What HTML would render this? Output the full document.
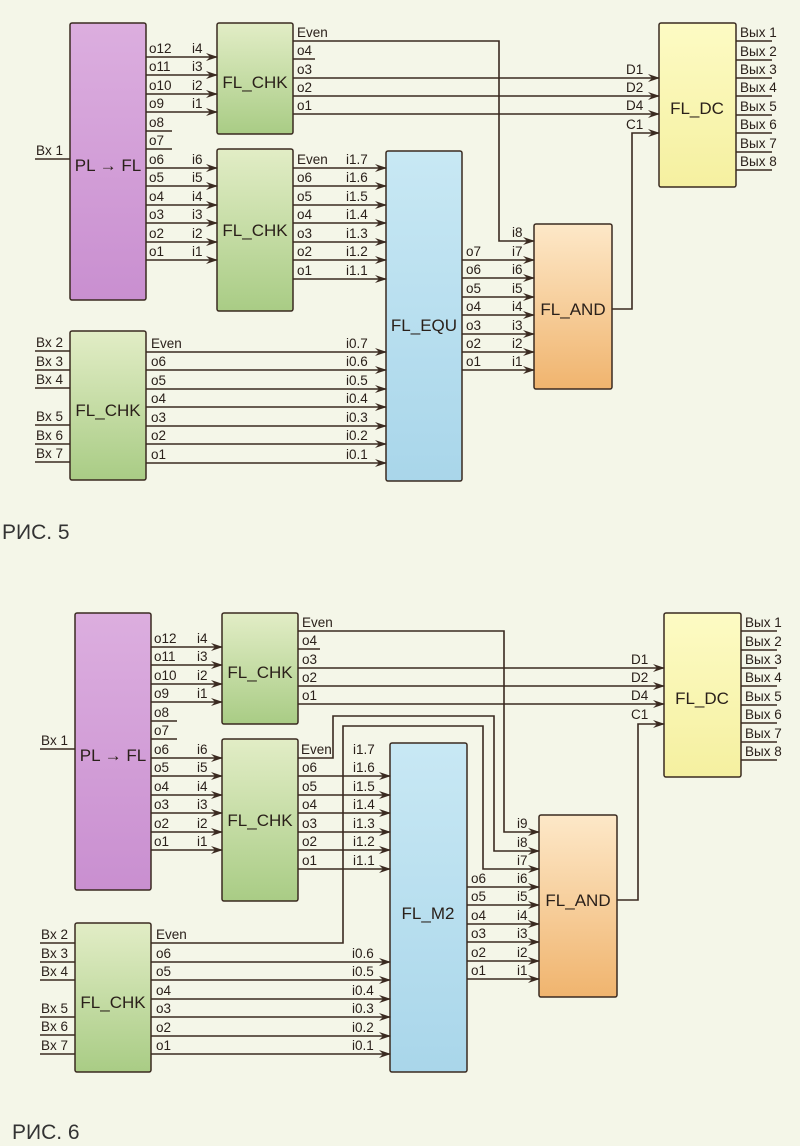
<!DOCTYPE html>
<html><head><meta charset="utf-8">
<style>
html,body{margin:0;padding:0;background:#f4f6e8;}
svg{display:block;}
text{font-family:"Liberation Sans",sans-serif;font-size:13.5px;fill:#2a201a;}
.t{font-size:17px;}
.cap{font-size:21px;fill:#333;}
.w{stroke:#3a2a20;stroke-width:1.6;fill:none;}
.b{stroke:#3a2a20;stroke-width:1.5;}
</style></head>
<body>
<svg width="800" height="1146" viewBox="0 0 800 1146" xmlns="http://www.w3.org/2000/svg">
<defs>
<marker id="a" markerWidth="12" markerHeight="8" refX="11" refY="4" orient="auto" markerUnits="userSpaceOnUse"><path d="M0,0 L12,4 L0,8 L4,4z" fill="#3a2a20"/></marker>
<linearGradient id="gp" x1="0" y1="0" x2="0" y2="1"><stop offset="0" stop-color="#dcaedf"/><stop offset="1" stop-color="#c98fd0"/></linearGradient>
<linearGradient id="gg" x1="0" y1="0" x2="0" y2="1"><stop offset="0" stop-color="#e2edc6"/><stop offset="1" stop-color="#a9cc85"/></linearGradient>
<linearGradient id="gb" x1="0" y1="0" x2="0" y2="1"><stop offset="0" stop-color="#c8e8f4"/><stop offset="1" stop-color="#a9d6ea"/></linearGradient>
<linearGradient id="go" x1="0" y1="0" x2="0" y2="1"><stop offset="0" stop-color="#fde8c8"/><stop offset="1" stop-color="#f0b46e"/></linearGradient>
<linearGradient id="gy" x1="0" y1="0" x2="0" y2="1"><stop offset="0" stop-color="#fdfbc4"/><stop offset="1" stop-color="#f5f0a0"/></linearGradient>
</defs>

<!-- ============ FIG 5 ============ -->
<g>
<rect x="70" y="23" width="76" height="277" rx="2" fill="url(#gp)" class="b"/>
<text x="108" y="171" text-anchor="middle" class="t">PL → FL</text>
<rect x="217" y="23" width="76" height="111" rx="2" fill="url(#gg)" class="b"/>
<text x="255" y="88" text-anchor="middle" class="t">FL_CHK</text>
<rect x="217" y="149" width="76" height="162" rx="2" fill="url(#gg)" class="b"/>
<text x="255" y="236" text-anchor="middle" class="t">FL_CHK</text>
<rect x="386" y="151" width="76" height="330" rx="2" fill="url(#gb)" class="b"/>
<text x="424" y="331" text-anchor="middle" class="t">FL_EQU</text>
<rect x="534" y="224" width="78" height="165" rx="2" fill="url(#go)" class="b"/>
<text x="573" y="315" text-anchor="middle" class="t">FL_AND</text>
<rect x="659" y="23" width="77" height="164" rx="2" fill="url(#gy)" class="b"/>
<text x="697" y="114" text-anchor="middle" class="t">FL_DC</text>
<rect x="70" y="331" width="76" height="149" rx="2" fill="url(#gg)" class="b"/>
<text x="108" y="416" text-anchor="middle" class="t">FL_CHK</text>

<path class="w" d="M35,159H70"/><text x="36" y="155">Bx 1</text>
<path class="w" marker-end="url(#a)" d="M146,57H217"/><path class="w" marker-end="url(#a)" d="M146,75H217"/><path class="w" marker-end="url(#a)" d="M146,94H217"/><path class="w" marker-end="url(#a)" d="M146,112H217"/>
<path class="w" marker-end="url(#a)" d="M146,168H217"/><path class="w" marker-end="url(#a)" d="M146,186H217"/><path class="w" marker-end="url(#a)" d="M146,205H217"/><path class="w" marker-end="url(#a)" d="M146,223H217"/><path class="w" marker-end="url(#a)" d="M146,242H217"/><path class="w" marker-end="url(#a)" d="M146,260H217"/>
<path class="w" d="M146,131H172M146,149H172"/>
<text x="149" y="53">o12</text><text x="149" y="71">o11</text><text x="149" y="90">o10</text><text x="149" y="108">o9</text><text x="149" y="127">o8</text><text x="149" y="145">o7</text>
<text x="149" y="164">o6</text><text x="149" y="182">o5</text><text x="149" y="201">o4</text><text x="149" y="219">o3</text><text x="149" y="238">o2</text><text x="149" y="256">o1</text>
<text x="192" y="53">i4</text><text x="192" y="71">i3</text><text x="192" y="90">i2</text><text x="192" y="108">i1</text>
<text x="192" y="164">i6</text><text x="192" y="182">i5</text><text x="192" y="201">i4</text><text x="192" y="219">i3</text><text x="192" y="238">i2</text><text x="192" y="256">i1</text>
<text x="297" y="37">Even</text><text x="297" y="55">o4</text><text x="297" y="74">o3</text><text x="297" y="92">o2</text><text x="297" y="110">o1</text>
<path class="w" marker-end="url(#a)" d="M293,41H499V241H534"/>
<path class="w" d="M293,59H315"/>
<path class="w" marker-end="url(#a)" d="M293,78H659"/><path class="w" marker-end="url(#a)" d="M293,96H659"/><path class="w" marker-end="url(#a)" d="M293,114H659"/>
<text x="626" y="74">D1</text><text x="626" y="92">D2</text><text x="626" y="110">D4</text><text x="626" y="129">C1</text>
<path class="w" marker-end="url(#a)" d="M293,168H386"/><path class="w" marker-end="url(#a)" d="M293,186H386"/><path class="w" marker-end="url(#a)" d="M293,205H386"/><path class="w" marker-end="url(#a)" d="M293,223H386"/><path class="w" marker-end="url(#a)" d="M293,242H386"/><path class="w" marker-end="url(#a)" d="M293,260H386"/><path class="w" marker-end="url(#a)" d="M293,279H386"/>
<text x="297" y="164">Even</text><text x="297" y="182">o6</text><text x="297" y="201">o5</text><text x="297" y="219">o4</text><text x="297" y="238">o3</text><text x="297" y="256">o2</text><text x="297" y="275">o1</text>
<text x="346" y="164">i1.7</text><text x="346" y="182">i1.6</text><text x="346" y="201">i1.5</text><text x="346" y="219">i1.4</text><text x="346" y="238">i1.3</text><text x="346" y="256">i1.2</text><text x="346" y="275">i1.1</text>
<path class="w" marker-end="url(#a)" d="M462,260H534"/><path class="w" marker-end="url(#a)" d="M462,278H534"/><path class="w" marker-end="url(#a)" d="M462,297H534"/><path class="w" marker-end="url(#a)" d="M462,315H534"/><path class="w" marker-end="url(#a)" d="M462,334H534"/><path class="w" marker-end="url(#a)" d="M462,352H534"/><path class="w" marker-end="url(#a)" d="M462,370H534"/>
<text x="466" y="256">o7</text><text x="466" y="274">o6</text><text x="466" y="293">o5</text><text x="466" y="311">o4</text><text x="466" y="330">o3</text><text x="466" y="348">o2</text><text x="466" y="366">o1</text>
<text x="512" y="237">i8</text><text x="512" y="256">i7</text><text x="512" y="274">i6</text><text x="512" y="293">i5</text><text x="512" y="311">i4</text><text x="512" y="330">i3</text><text x="512" y="348">i2</text><text x="512" y="366">i1</text>
<path class="w" marker-end="url(#a)" d="M612,309H632V133H659"/>
<path class="w" d="M736,41H772M736,60H772M736,78H772M736,96H772M736,115H772M736,133H772M736,152H772M736,170H772"/>
<text x="740" y="37">Вых 1</text><text x="740" y="56">Вых 2</text><text x="740" y="74">Вых 3</text><text x="740" y="92">Вых 4</text><text x="740" y="111">Вых 5</text><text x="740" y="129">Вых 6</text><text x="740" y="148">Вых 7</text><text x="740" y="166">Вых 8</text>
<path class="w" d="M35,351H70M35,370H70M35,388H70M35,425H70M35,444H70M35,462H70"/>
<text x="36" y="347">Bx 2</text><text x="36" y="366">Bx 3</text><text x="36" y="384">Bx 4</text><text x="36" y="421">Bx 5</text><text x="36" y="440">Bx 6</text><text x="36" y="458">Bx 7</text>
<path class="w" marker-end="url(#a)" d="M146,352H386"/><path class="w" marker-end="url(#a)" d="M146,370H386"/><path class="w" marker-end="url(#a)" d="M146,389H386"/><path class="w" marker-end="url(#a)" d="M146,407H386"/><path class="w" marker-end="url(#a)" d="M146,426H386"/><path class="w" marker-end="url(#a)" d="M146,444H386"/><path class="w" marker-end="url(#a)" d="M146,463H386"/>
<text x="151" y="348">Even</text><text x="151" y="366">o6</text><text x="151" y="385">o5</text><text x="151" y="403">o4</text><text x="151" y="422">o3</text><text x="151" y="440">o2</text><text x="151" y="459">o1</text>
<text x="346" y="348">i0.7</text><text x="346" y="366">i0.6</text><text x="346" y="385">i0.5</text><text x="346" y="403">i0.4</text><text x="346" y="422">i0.3</text><text x="346" y="440">i0.2</text><text x="346" y="459">i0.1</text>
</g>
<text x="2" y="539" class="cap">РИС. 5</text>

<!-- ============ FIG 6 ============ -->
<g transform="translate(5,590)">
<rect x="70" y="23" width="76" height="277" rx="2" fill="url(#gp)" class="b"/>
<text x="108" y="171" text-anchor="middle" class="t">PL → FL</text>
<rect x="217" y="23" width="76" height="111" rx="2" fill="url(#gg)" class="b"/>
<text x="255" y="88" text-anchor="middle" class="t">FL_CHK</text>
<rect x="217" y="149" width="76" height="162" rx="2" fill="url(#gg)" class="b"/>
<text x="255" y="236" text-anchor="middle" class="t">FL_CHK</text>
<rect x="385" y="153" width="77" height="329" rx="2" fill="url(#gb)" class="b"/>
<text x="423" y="329" text-anchor="middle" class="t">FL_M2</text>
<rect x="534" y="225" width="78" height="182" rx="2" fill="url(#go)" class="b"/>
<text x="573" y="316" text-anchor="middle" class="t">FL_AND</text>
<rect x="659" y="23" width="77" height="164" rx="2" fill="url(#gy)" class="b"/>
<text x="697" y="114" text-anchor="middle" class="t">FL_DC</text>
<rect x="70" y="333" width="76" height="149" rx="2" fill="url(#gg)" class="b"/>
<text x="108" y="418" text-anchor="middle" class="t">FL_CHK</text>

<path class="w" d="M35,159H70"/><text x="36" y="155">Bx 1</text>
<path class="w" marker-end="url(#a)" d="M146,57H217"/><path class="w" marker-end="url(#a)" d="M146,75H217"/><path class="w" marker-end="url(#a)" d="M146,94H217"/><path class="w" marker-end="url(#a)" d="M146,112H217"/>
<path class="w" marker-end="url(#a)" d="M146,168H217"/><path class="w" marker-end="url(#a)" d="M146,186H217"/><path class="w" marker-end="url(#a)" d="M146,205H217"/><path class="w" marker-end="url(#a)" d="M146,223H217"/><path class="w" marker-end="url(#a)" d="M146,242H217"/><path class="w" marker-end="url(#a)" d="M146,260H217"/>
<path class="w" d="M146,131H172M146,149H172"/>
<text x="149" y="53">o12</text><text x="149" y="71">o11</text><text x="149" y="90">o10</text><text x="149" y="108">o9</text><text x="149" y="127">o8</text><text x="149" y="145">o7</text>
<text x="149" y="164">o6</text><text x="149" y="182">o5</text><text x="149" y="201">o4</text><text x="149" y="219">o3</text><text x="149" y="238">o2</text><text x="149" y="256">o1</text>
<text x="192" y="53">i4</text><text x="192" y="71">i3</text><text x="192" y="90">i2</text><text x="192" y="108">i1</text>
<text x="192" y="164">i6</text><text x="192" y="182">i5</text><text x="192" y="201">i4</text><text x="192" y="219">i3</text><text x="192" y="238">i2</text><text x="192" y="256">i1</text>
<text x="297" y="37">Even</text><text x="297" y="55">o4</text><text x="297" y="74">o3</text><text x="297" y="92">o2</text><text x="297" y="110">o1</text>
<path class="w" marker-end="url(#a)" d="M293,41H499V242H534"/>
<path class="w" d="M293,59H315"/>
<path class="w" marker-end="url(#a)" d="M293,78H659"/><path class="w" marker-end="url(#a)" d="M293,96H659"/><path class="w" marker-end="url(#a)" d="M293,114H659"/>
<text x="626" y="74">D1</text><text x="626" y="92">D2</text><text x="626" y="110">D4</text><text x="626" y="129">C1</text>
<path class="w" marker-end="url(#a)" d="M293,168H328V126H489V261H534"/>
<path class="w" marker-end="url(#a)" d="M293,186H385"/><path class="w" marker-end="url(#a)" d="M293,205H385"/><path class="w" marker-end="url(#a)" d="M293,223H385"/><path class="w" marker-end="url(#a)" d="M293,242H385"/><path class="w" marker-end="url(#a)" d="M293,260H385"/><path class="w" marker-end="url(#a)" d="M293,279H385"/>
<text x="296" y="164">Even</text><text x="297" y="182">o6</text><text x="297" y="201">o5</text><text x="297" y="219">o4</text><text x="297" y="238">o3</text><text x="297" y="256">o2</text><text x="297" y="275">o1</text>
<text x="348" y="164">i1.7</text><text x="348" y="182">i1.6</text><text x="348" y="201">i1.5</text><text x="348" y="219">i1.4</text><text x="348" y="238">i1.3</text><text x="348" y="256">i1.2</text><text x="348" y="275">i1.1</text>
<path class="w" marker-end="url(#a)" d="M462,297H534"/><path class="w" marker-end="url(#a)" d="M462,315H534"/><path class="w" marker-end="url(#a)" d="M462,334H534"/><path class="w" marker-end="url(#a)" d="M462,352H534"/><path class="w" marker-end="url(#a)" d="M462,371H534"/><path class="w" marker-end="url(#a)" d="M462,389H534"/>
<text x="466" y="293">o6</text><text x="466" y="311">o5</text><text x="466" y="330">o4</text><text x="466" y="348">o3</text><text x="466" y="367">o2</text><text x="466" y="385">o1</text>
<text x="512" y="238">i9</text><text x="512" y="257">i8</text><text x="512" y="275">i7</text><text x="512" y="293">i6</text><text x="512" y="311">i5</text><text x="512" y="330">i4</text><text x="512" y="348">i3</text><text x="512" y="367">i2</text><text x="512" y="385">i1</text>
<path class="w" marker-end="url(#a)" d="M612,310H633V134H659"/>
<path class="w" d="M736,41H772M736,60H772M736,78H772M736,96H772M736,115H772M736,133H772M736,152H772M736,170H772"/>
<text x="740" y="37">Вых 1</text><text x="740" y="56">Вых 2</text><text x="740" y="74">Вых 3</text><text x="740" y="92">Вых 4</text><text x="740" y="111">Вых 5</text><text x="740" y="129">Вых 6</text><text x="740" y="148">Вых 7</text><text x="740" y="166">Вых 8</text>
<path class="w" d="M35,353H70M35,372H70M35,390H70M35,427H70M35,445H70M35,464H70"/>
<text x="36" y="349">Bx 2</text><text x="36" y="368">Bx 3</text><text x="36" y="386">Bx 4</text><text x="36" y="423">Bx 5</text><text x="36" y="441">Bx 6</text><text x="36" y="460">Bx 7</text>
<path class="w" marker-end="url(#a)" d="M146,353H338V136H478V279H534"/>
<path class="w" marker-end="url(#a)" d="M146,372H385"/><path class="w" marker-end="url(#a)" d="M146,390H385"/><path class="w" marker-end="url(#a)" d="M146,409H385"/><path class="w" marker-end="url(#a)" d="M146,427H385"/><path class="w" marker-end="url(#a)" d="M146,446H385"/><path class="w" marker-end="url(#a)" d="M146,464H385"/>
<text x="151" y="349">Even</text><text x="151" y="368">o6</text><text x="151" y="386">o5</text><text x="151" y="405">o4</text><text x="151" y="423">o3</text><text x="151" y="442">o2</text><text x="151" y="460">o1</text>
<text x="347" y="368">i0.6</text><text x="347" y="386">i0.5</text><text x="347" y="405">i0.4</text><text x="347" y="423">i0.3</text><text x="347" y="442">i0.2</text><text x="347" y="460">i0.1</text>
</g>
<text x="12" y="1139" class="cap">РИС. 6</text>
</svg>
</body></html>
